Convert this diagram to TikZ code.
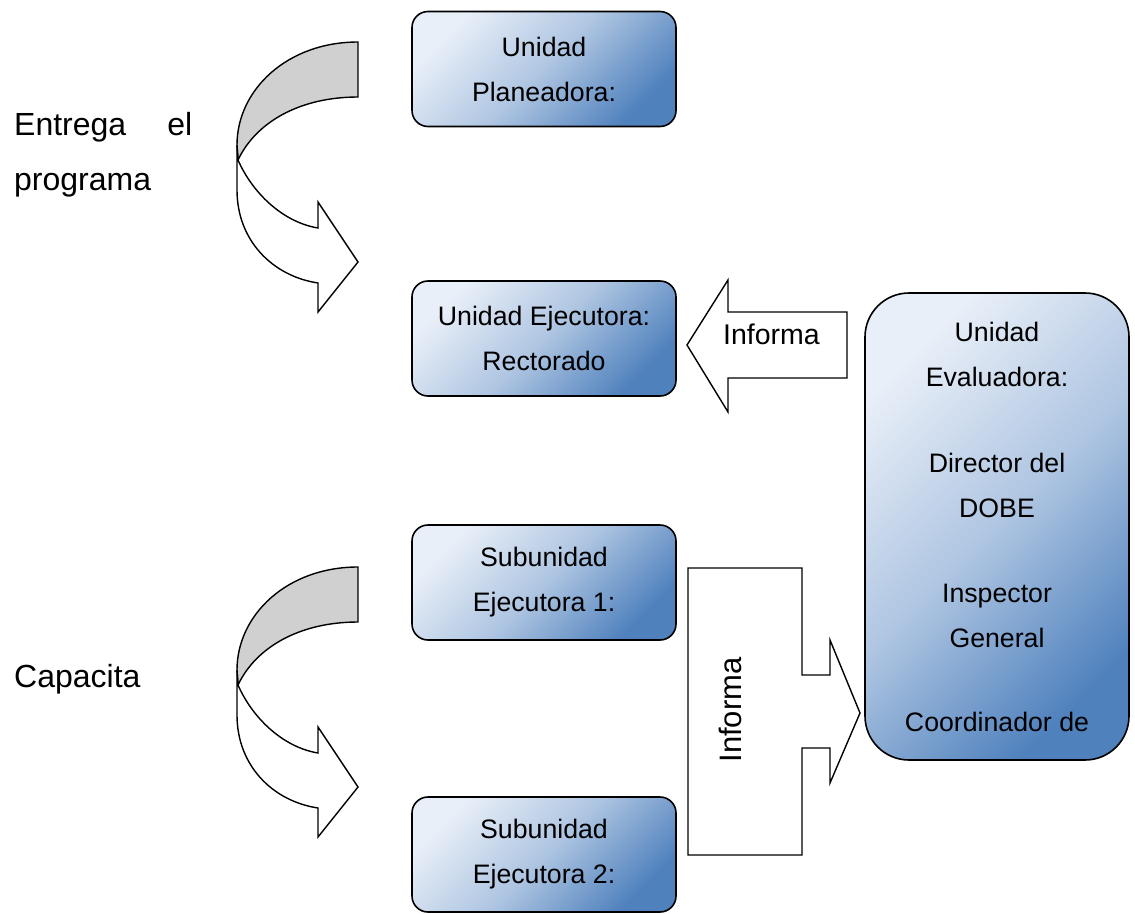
\documentclass[tikz,border=0pt]{standalone}
\usepackage{fontspec}
\setmainfont{Liberation Sans}
\definecolor{boxlight}{HTML}{E9EFF8}
\definecolor{boxdark}{HTML}{4F81BD}
\definecolor{bandgray}{HTML}{D0D0D0}
\begin{document}
\begin{tikzpicture}[x=1pt,y=-1pt,
  unitbox/.style={draw=black, line width=1.6pt, rounded corners=16pt,
    top color=boxlight, bottom color=boxdark, middle color=boxlight!62!boxdark, shading angle=45,
    minimum width=264pt, minimum height=115pt, inner sep=0pt, align=center,
    font=\fontsize{26.7}{45}\selectfont},
  evalbox/.style={unitbox, rounded corners=44pt, minimum height=467pt},
  blockarrow/.style={draw=black, line width=1.4pt, fill=white, line join=miter},
  bandback/.style={draw=black, line width=1.4pt, fill=bandgray},
  sidelabel/.style={inner sep=0pt, font=\fontsize{32}{55}\selectfont},
  arrowlabel/.style={inner sep=0pt, font=\fontsize{28.5}{34}\selectfont},
  curvedarrow/.pic={
    \path[bandback] (358,42) .. controls (287,42) and (237,90) .. (237,145)
      -- (238,160) .. controls (256,122) and (300,97) .. (358,97) -- cycle;
    \path[blockarrow] (238,160) .. controls (252,192) and (282,222) .. (318,228)
      -- (318,202) -- (358,262) -- (318,312) -- (318,283)
      .. controls (272,276) and (237,240) .. (237,190) -- (237,145) -- cycle;
  }]
\useasboundingbox (0,0) rectangle (1135,913);

% boxes
\node[unitbox] (plan) at (544,69) {Unidad\\Planeadora:};
\node[unitbox] (ejec) at (544,338.5) {Unidad Ejecutora:\\Rectorado};
\node[unitbox] (sub1) at (544,582.5) {Subunidad\\Ejecutora 1:};
\node[unitbox] (sub2) at (544,854.5) {Subunidad\\Ejecutora 2:};
\node[evalbox] (eval) at (997,526.5) {Unidad\\Evaluadora:\\[41pt]Director del\\DOBE\\[40pt]Inspector\\General\\[39pt]Coordinador de};

% curved arrows
\pic at (0,0) {curvedarrow};
\pic at (0,525) {curvedarrow};

% side labels
\node[sidelabel, text width=178pt, align=justify, anchor=base west] (entrega) at (14,135)
  {\hyphenpenalty=10000 Entrega el programa};
\node[sidelabel, anchor=base west] (capacita) at (14,687) {Capacita};

% left block arrow (Informa)
\path[blockarrow] (847,312) -- (728,312) -- (728,280) -- (687,345) -- (728,412)
  -- (728,378) -- (847,378) -- cycle;
\node[arrowlabel] (inf1) at (771.5,334) {Informa};

% bent block arrow (Informa, vertical)
\path[blockarrow] (688,568) -- (802,568) -- (802,675) -- (830,675) -- (830,640)
  -- (860,713) -- (830,783) -- (830,748) -- (802,748) -- (802,855) -- (688,855) -- cycle;
\node[arrowlabel, font=\fontsize{31}{36}\selectfont, rotate=90] (inf2) at (730,710) {Informa};
\end{tikzpicture}
\end{document}
